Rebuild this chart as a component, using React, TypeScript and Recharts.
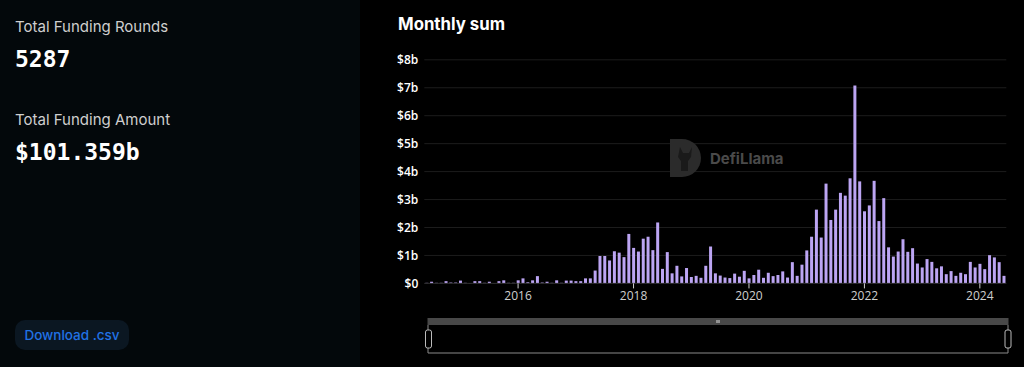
import { Bar, BarChart, CartesianGrid, XAxis, YAxis } from "recharts"

// monthly funding sums, billions of USD
const months = [
  "2014-06", "2014-07", "2014-08", "2014-09", "2014-10", "2014-11", "2014-12",
  "2015-01", "2015-02", "2015-03", "2015-04", "2015-05", "2015-06", "2015-07", "2015-08", "2015-09", "2015-10", "2015-11", "2015-12",
  "2016-01", "2016-02", "2016-03", "2016-04", "2016-05", "2016-06", "2016-07", "2016-08", "2016-09", "2016-10", "2016-11", "2016-12",
  "2017-01", "2017-02", "2017-03", "2017-04", "2017-05", "2017-06", "2017-07", "2017-08", "2017-09", "2017-10", "2017-11", "2017-12",
  "2018-01", "2018-02", "2018-03", "2018-04", "2018-05", "2018-06", "2018-07", "2018-08", "2018-09", "2018-10", "2018-11", "2018-12",
  "2019-01", "2019-02", "2019-03", "2019-04", "2019-05", "2019-06", "2019-07", "2019-08", "2019-09", "2019-10", "2019-11", "2019-12",
  "2020-01", "2020-02", "2020-03", "2020-04", "2020-05", "2020-06", "2020-07", "2020-08", "2020-09", "2020-10", "2020-11", "2020-12",
  "2021-01", "2021-02", "2021-03", "2021-04", "2021-05", "2021-06", "2021-07", "2021-08", "2021-09", "2021-10", "2021-11", "2021-12",
  "2022-01", "2022-02", "2022-03", "2022-04", "2022-05", "2022-06", "2022-07", "2022-08", "2022-09", "2022-10", "2022-11", "2022-12",
  "2023-01", "2023-02", "2023-03", "2023-04", "2023-05", "2023-06", "2023-07", "2023-08", "2023-09", "2023-10", "2023-11", "2023-12",
  "2024-01", "2024-02", "2024-03", "2024-04", "2024-05", "2024-06",
]

const amounts = [
  0.02, 0.06, 0.02, 0.02, 0.08, 0.03, 0.03,
  0.1, 0.02, 0.01, 0.08, 0.08, 0.02, 0.06, 0.01, 0.08, 0.11, 0.02, 0.02,
  0.11, 0.18, 0.04, 0.11, 0.26, 0.03, 0.06, 0.02, 0.11, 0.02, 0.1, 0.1,
  0.08, 0.08, 0.18, 0.18, 0.46, 0.98, 0.98, 0.82, 1.15, 1.1, 0.94, 1.77,
  1.27, 1.14, 1.6, 1.67, 1.19, 2.18, 0.52, 1.12, 0.36, 0.63, 0.25, 0.55,
  0.23, 0.27, 0.2, 0.63, 1.32, 0.36, 0.28, 0.21, 0.19, 0.35, 0.24, 0.45,
  0.18, 0.3, 0.49, 0.2, 0.38, 0.26, 0.3, 0.43, 0.21, 0.76, 0.27, 0.67,
  1.18, 1.67, 2.64, 1.64, 3.57, 2.27, 2.64, 3.24, 3.14, 3.76, 7.08, 3.65,
  2.58, 2.79, 3.67, 2.23, 3.05, 1.29, 0.96, 1.14, 1.58, 1.13, 1.26, 0.71,
  0.57, 0.87, 0.77, 0.54, 0.61, 0.33, 0.44, 0.27, 0.38, 0.33, 0.77, 0.57,
  0.7, 0.51, 1.01, 0.93, 0.76, 0.27,
]

const yearTicks = ["2016-01", "2018-01", "2020-01", "2022-01", "2024-01"]
const valueTicks = [0, 1, 2, 3, 4, 5, 6, 7, 8]

const totalRounds = "5287"
const totalAmount = "$101.359b"

const data = months.map((month, i) => ({ month, amount: amounts[i] }))

const sans = "Inter, 'Noto Sans', sans-serif"
const axisFont = "'Open Sans', 'Noto Sans', sans-serif"

// chart svg starts at page x=360, so watermark coords are relative to that
function Watermark() {
  return (
    <g>
      <path d="M310 139 h12 a19 19 0 0 1 0 38 h-12 z" fill="#2b2b2b" />
      <path d="M320 147 l3 6 h6 l3 -6 l-1 10 l-3 4 v10 h-7 v-10 l-3 -4 z" fill="#1a1a1a" />
      <text x={350} y={164} fill="#4a4a4a" fontSize={15} fontWeight={700} fontFamily={sans}>
        DefiLlama
      </text>
    </g>
  )
}

function Slider() {
  return (
    <svg width={1024} height={367} style={{ position: "absolute", left: 0, top: 0, pointerEvents: "none" }}>
      <rect x={427.5} y={318} width={581} height={7} fill="#484848" />
      <line x1={717} y1={320} x2={717} y2={323} stroke="#ddd" />
      <line x1={719} y1={320} x2={719} y2={323} stroke="#ddd" />
      <path d="M428 325 V353 H1008 V325" fill="none" stroke="#8a8a8a" />
      <rect x={425.5} y={330} width={6} height={18} rx={2} fill="#000" stroke="#bbb" />
      <rect x={1005} y={330} width={6} height={18} rx={2} fill="#000" stroke="#bbb" />
    </svg>
  )
}

export default function App() {
  return (
    <div style={{ position: "relative", width: 1024, height: 367, background: "#000", overflow: "hidden" }}>
      <style>{"body{margin:0}"}</style>
      <div style={{ position: "absolute", left: 0, top: 0, width: 360, height: 367, background: "#03080b", fontFamily: sans }}>
        <div style={{ position: "absolute", left: 15, top: 17, fontSize: 15, color: "#cfcfcf" }}>Total Funding Rounds</div>
        <div style={{ position: "absolute", left: 15, top: 46, fontSize: 23, fontWeight: 700, color: "#fff", fontFamily: "'DejaVu Sans Mono', monospace" }}>
          {totalRounds}
        </div>
        <div style={{ position: "absolute", left: 15, top: 110, fontSize: 15, color: "#cfcfcf" }}>Total Funding Amount</div>
        <div style={{ position: "absolute", left: 15, top: 139, fontSize: 23, fontWeight: 700, color: "#fff", fontFamily: "'DejaVu Sans Mono', monospace" }}>
          {totalAmount}
        </div>
        <div
          style={{
            position: "absolute",
            left: 15,
            top: 320,
            width: 114,
            height: 30,
            borderRadius: 10,
            background: "#0b1722",
            color: "#2172e5",
            fontSize: 13.5,
            fontWeight: 500,
            display: "flex",
            alignItems: "center",
            justifyContent: "center",
          }}
        >
          Download .csv
        </div>
      </div>
      <div style={{ position: "absolute", left: 398, top: 14, fontSize: 16.8, fontWeight: 700, color: "#fff", fontFamily: sans }}>
        Monthly sum
      </div>
      <div style={{ position: "absolute", left: 360, top: 0 }}>
        <BarChart width={664} height={367} data={data} margin={{ top: 59.8, right: 17.7, bottom: 53.6, left: 4.3 }}>
          <CartesianGrid vertical={false} stroke="#1c1c1c" />
          <XAxis
            dataKey="month"
            ticks={yearTicks}
            interval={0}
            height={30}
            tickFormatter={(v: string) => v.slice(0, 4)}
            tick={{ fill: "#cfcfcf", fontSize: 12, fontFamily: axisFont }}
            tickLine={{ stroke: "#cfcfcf" }}
            tickSize={5}
            tickMargin={3}
            axisLine={{ stroke: "#2a2a2a" }}
          />
          <YAxis
            domain={[0, 8]}
            ticks={valueTicks}
            width={60}
            tickFormatter={(v: number) => (v === 0 ? "$0" : `$${v}b`)}
            tick={{ fill: "#fff", fontSize: 12, fontWeight: 600, fontFamily: axisFont }}
            tickLine={false}
            axisLine={false}
            tickSize={6}
            tickMargin={0}
          />
          <Watermark />
          <Bar dataKey="amount" fill="#bca5f3" barSize={3} isAnimationActive={false} />
        </BarChart>
      </div>
      <Slider />
    </div>
  )
}
